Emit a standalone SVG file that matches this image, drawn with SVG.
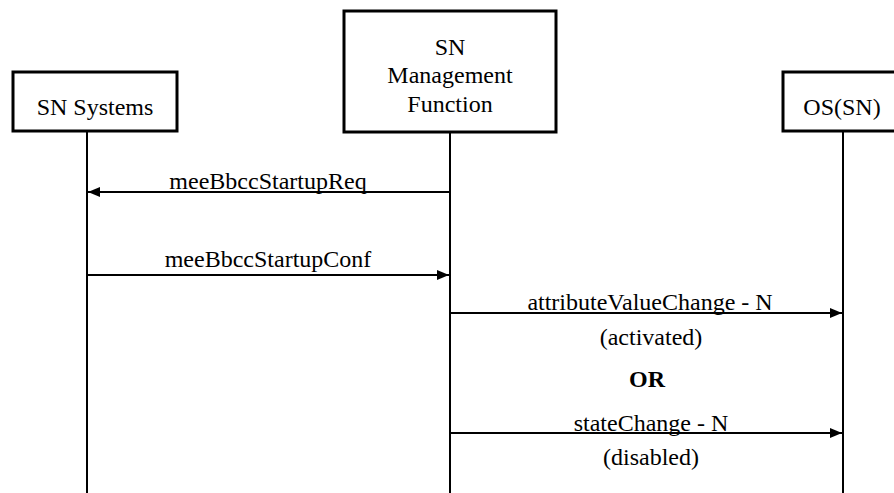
<svg xmlns="http://www.w3.org/2000/svg" width="894" height="493" viewBox="0 0 894 493">
  <defs>
    <marker id="arrow" markerWidth="12" markerHeight="10" refX="12" refY="5" orient="auto" markerUnits="userSpaceOnUse">
      <path d="M0,0 L12,5 L0,10 Z" fill="#000"/>
    </marker>
    <style>
      .box { fill: #fff; stroke: #000; stroke-width: 3; }
      .life { stroke: #000; stroke-width: 2; fill: none; }
      .msg { stroke: #000; stroke-width: 2; fill: none; marker-end: url(#arrow); }
      .lbl { font-size: 24px; fill: #000; text-anchor: middle; }
      .bold { font-weight: bold; }
    </style>
  </defs>
  <rect width="894" height="493" fill="#fff"/>

  <!-- lifelines -->
  <g id="lifelines">
    <line class="life" x1="87" y1="131" x2="87" y2="493"/>
    <line class="life" x1="450" y1="132" x2="450" y2="493"/>
    <line class="life" x1="843" y1="131" x2="843" y2="493"/>
  </g>

  <g font-family="Liberation Serif, Tinos, DejaVu Serif, serif">
    <g id="sn-systems">
      <rect class="box" x="13" y="72" width="164" height="59"/>
      <text class="lbl" x="95" y="115">SN Systems</text>
    </g>

    <g id="sn-management-function">
      <rect class="box" x="344" y="11" width="212" height="121"/>
      <text class="lbl" x="450" y="55">SN</text>
      <text class="lbl" x="450" y="83">Management</text>
      <text class="lbl" x="450" y="112">Function</text>
    </g>

    <g id="os-sn">
      <rect class="box" x="783" y="72" width="122" height="59"/>
      <text class="lbl" x="842" y="115">OS(SN)</text>
    </g>

    <!-- messages -->
    <g id="connectors">
      <line class="msg" x1="450" y1="192" x2="88" y2="192"/>
      <line class="msg" x1="87" y1="275" x2="449" y2="275"/>
      <line class="msg" x1="450" y1="313" x2="842" y2="313"/>
      <line class="msg" x1="450" y1="433" x2="842" y2="433"/>
    </g>

    <g id="labels">
      <text class="lbl" x="268" y="189">meeBbccStartupReq</text>
      <text class="lbl" x="268" y="267">meeBbccStartupConf</text>
      <text class="lbl" x="650" y="310">attributeValueChange - N</text>
      <text class="lbl" x="651" y="345">(activated)</text>
      <text class="lbl bold" x="647" y="387">OR</text>
      <text class="lbl" x="651" y="431">stateChange - N</text>
      <text class="lbl" x="651" y="465">(disabled)</text>
    </g>
  </g>
</svg>
